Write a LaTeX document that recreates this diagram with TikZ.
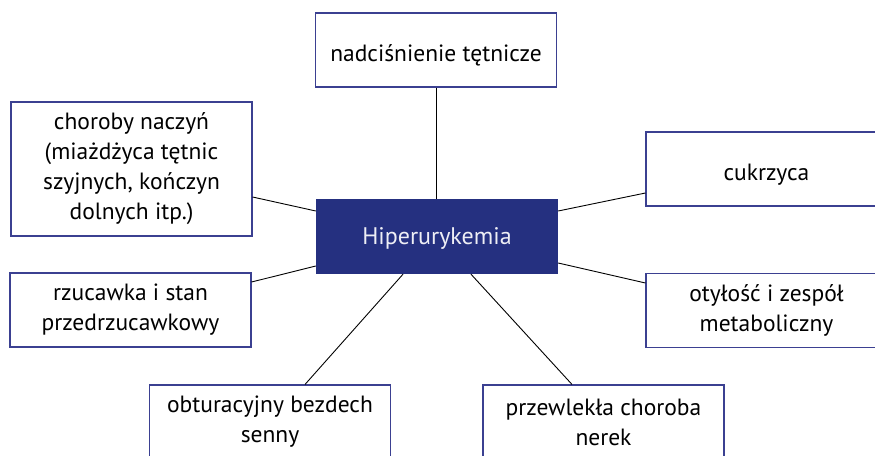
\documentclass[tikz,border=0pt]{standalone}
\usepackage{fontspec}
\setmainfont{PT Sans}
\definecolor{navy}{HTML}{253080}
\definecolor{boxline}{HTML}{3B4091}
\begin{document}
\begin{tikzpicture}[x=1pt,y=-1pt,
  box/.style={draw=boxline,line width=1.1pt,fill=white,minimum width=241pt,minimum height=74pt,
    inner sep=0pt,align=center,text=black,font=\fontsize{23.5}{30}\selectfont,
    execute at begin node={\rule{0pt}{27pt}}},
  hub/.style={fill=navy,minimum width=242pt,minimum height=75pt,inner sep=0pt,align=center,
    text=white!92!navy,font=\fontsize{24}{30}\selectfont,
    execute at begin node={\rule{0pt}{21pt}}},
  link/.style={draw=black,line width=0.9pt}]
\useasboundingbox (0,0) rectangle (875,455);
\clip (0,0) rectangle (875,455);
\node[hub] (hip) at (437,236.5) {Hiperurykemia};
\node[box] (top) at (436,50) {nadciśnienie tętnicze};
\node[box,minimum height=134pt] (chor) at (131.5,169) {choroby naczyń\\(miażdżyca tętnic\\szyjnych, kończyn\\dolnych itp.)};
\node[box] (cuk) at (766.5,169) {cukrzyca};
\node[box] (rzu) at (130.5,310) {rzucawka i stan\\przedrzucawkowy};
\node[box] (oty) at (766.5,310.5) {otyłość i zespół\\metaboliczny};
\node[box] (obt) at (270,422) {obturacyjny bezdech\\senny};
\node[box] (prz) at (603.5,422) {przewlekła choroba\\nerek};
\draw[link] (top.south) -- (top.south |- hip.north);
\draw[link] ([yshift=-28pt]chor.east) -- ([yshift=25.5pt]hip.west);
\draw[link] ([yshift=-24pt]cuk.west) -- ([yshift=25.5pt]hip.east);
\draw[link] ([yshift=28pt]rzu.east) -- ([yshift=-29.5pt]hip.west);
\draw[link] ([yshift=27.5pt]oty.west) -- ([yshift=-26.5pt]hip.east);
\draw[link] ([xshift=35pt]obt.north) -- ([xshift=-34pt]hip.south);
\draw[link] ([xshift=-31.5pt]prz.north) -- ([xshift=34pt]hip.south);
\end{tikzpicture}
\end{document}
